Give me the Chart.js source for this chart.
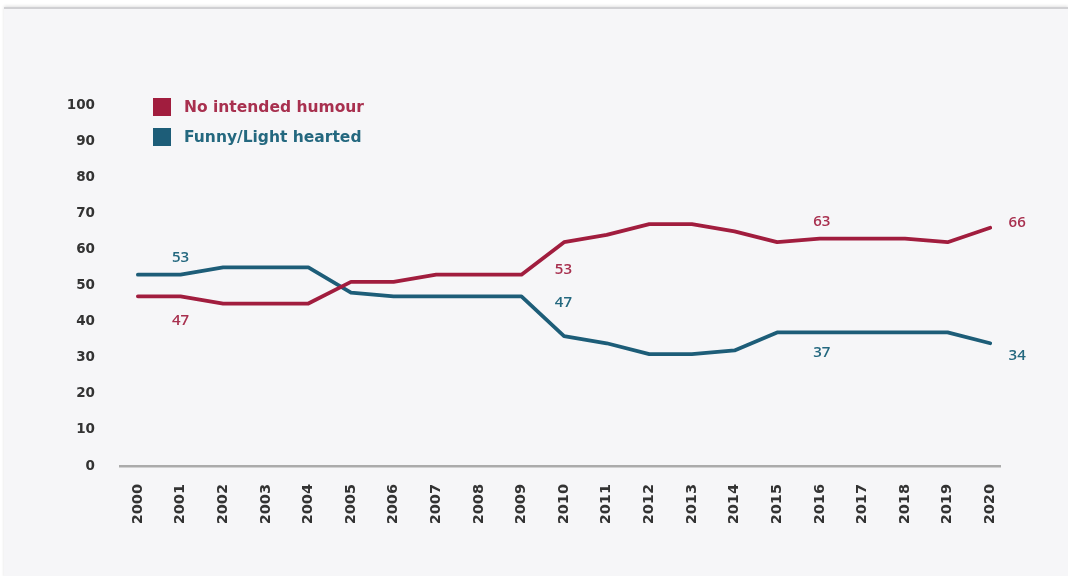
<!DOCTYPE html>
<html><head><meta charset="utf-8">
<script src="https://cdn.jsdelivr.net/npm/chart.js@4.4.0/dist/chart.umd.min.js"></script>
<style>
html,body{margin:0;padding:0;background:#fff;width:1068px;height:576px;overflow:hidden;}
#frame{position:absolute;left:4px;top:7px;width:1064px;height:569px;background:#f6f6f8;border-top:2px solid #d0d0d3;box-shadow:0 -1px 3px rgba(0,0,0,0.12);}
#wrap{position:absolute;left:0;top:0;width:1068px;height:576px;}
</style></head><body>
<div id="frame"></div>
<div id="wrap"><canvas id="c" width="1068" height="576"></canvas></div>
<script>
// ---- data ----
const years = [2000,2001,2002,2003,2004,2005,2006,2007,2008,2009,2010,2011,2012,2013,2014,2015,2016,2017,2018,2019,2020];
const noIntendedHumour = [47,47,45,45,45,51,51,53,53,53,62,64,67,67,65,62,63,63,63,62,66];
const funnyLightHearted = [53,53,55,55,55,48,47,47,47,47,36,34,31,31,32,37,37,37,37,37,34];
const yTickValues = [0,10,20,30,40,50,60,70,80,90,100];
const seriesNames = ['No intended humour','Funny/Light hearted'];
// years whose values are written on the chart
const labelledYears = [2001,2009,2016,2020];

// ---- styling ----
const RED = '#a11d3e';
const BLUE = '#1d5d78';
const RED_TXT = '#a8304f';
const BLUE_TXT = '#24687f';
const FONT = '"DejaVu Sans", sans-serif';

// label placement (offsets in px from the point), per series / year
const labelPlacement = {
  0: {2001:[0,24], 2009:[42,-5], 2016:[2,-17], 2020:[27,-5]},
  1: {2001:[0,-17], 2009:[42,6], 2016:[2,20], 2020:[27,12]}
};

const valueLabels = {
  id:'valueLabels',
  afterDatasetsDraw(chart){
    const ctx = chart.ctx;
    const xs = chart.scales.x, ys = chart.scales.y;
    ctx.save();
    ctx.font = '600 15px "Open Sans", sans-serif';
    ctx.textAlign = 'center';
    ctx.textBaseline = 'middle';
    chart.data.datasets.forEach((ds, di) => {
      ctx.fillStyle = di === 0 ? RED_TXT : BLUE_TXT;
      labelledYears.forEach(yr => {
        const i = years.indexOf(yr);
        const v = ds.data[i].y;
        const off = labelPlacement[di][yr];
        ctx.fillText(String(v), xs.getPixelForValue(yr) + off[0], ys.getPixelForValue(v) + off[1]);
      });
    });
    ctx.restore();
  }
};

const customLegend = {
  id:'customLegend',
  afterDraw(chart){
    const ctx = chart.ctx;
    ctx.save();
    ctx.font = 'bold 15.5px ' + FONT;
    ctx.textBaseline = 'middle';
    ctx.textAlign = 'left';
    chart.data.datasets.forEach((ds, i) => {
      const y = 98 + i * 30;
      ctx.fillStyle = ds.borderColor;
      ctx.fillRect(153, y, 18, 18);
      ctx.fillStyle = i === 0 ? RED_TXT : BLUE_TXT;
      ctx.fillText(ds.label, 184, y + 9.5);
    });
    ctx.restore();
  }
};

const toPoints = arr => arr.map((v, i) => ({x: years[i], y: v}));

new Chart(document.getElementById('c'), {
  type:'line',
  data:{
    datasets:[
      {label:seriesNames[0], data:toPoints(noIntendedHumour), borderColor:RED, backgroundColor:RED, borderWidth:3.8, pointRadius:0, tension:0, borderJoinStyle:'round', borderCapStyle:'round'},
      {label:seriesNames[1], data:toPoints(funnyLightHearted), borderColor:BLUE, backgroundColor:BLUE, borderWidth:3.8, pointRadius:0, tension:0, borderJoinStyle:'round', borderCapStyle:'round'}
    ]
  },
  options:{
    responsive:false,
    devicePixelRatio:1,
    animation:false,
    layout:{padding:{left:50,right:68,top:105,bottom:20}},
    plugins:{legend:{display:false}, tooltip:{enabled:false}},
    scales:{
      x:{
        type:'linear',
        min:1999.58, max:2020.23,
        afterBuildTicks(s){ s.ticks = years.map(v => ({value:v})); },
        afterFit(s){ s.height = 90; },
        grid:{display:false, drawTicks:false},
        border:{display:true, color:'#ababab', width:2.5},
        ticks:{autoSkip:false, minRotation:90, maxRotation:90, padding:18,
          color:'#333', font:{family:FONT, weight:'bold', size:14.5},
          callback:v => String(v)}
      },
      y:{
        min:0, max:100,
        afterBuildTicks(s){ s.ticks = yTickValues.map(v => ({value:v})); },
        afterFit(s){ s.width = 70; },
        grid:{display:false, drawTicks:false},
        border:{display:false},
        ticks:{padding:25, color:'#333', font:{family:FONT, weight:'bold', size:13.5}}
      }
    }
  },
  plugins:[valueLabels, customLegend]
});
</script>
</body></html>
